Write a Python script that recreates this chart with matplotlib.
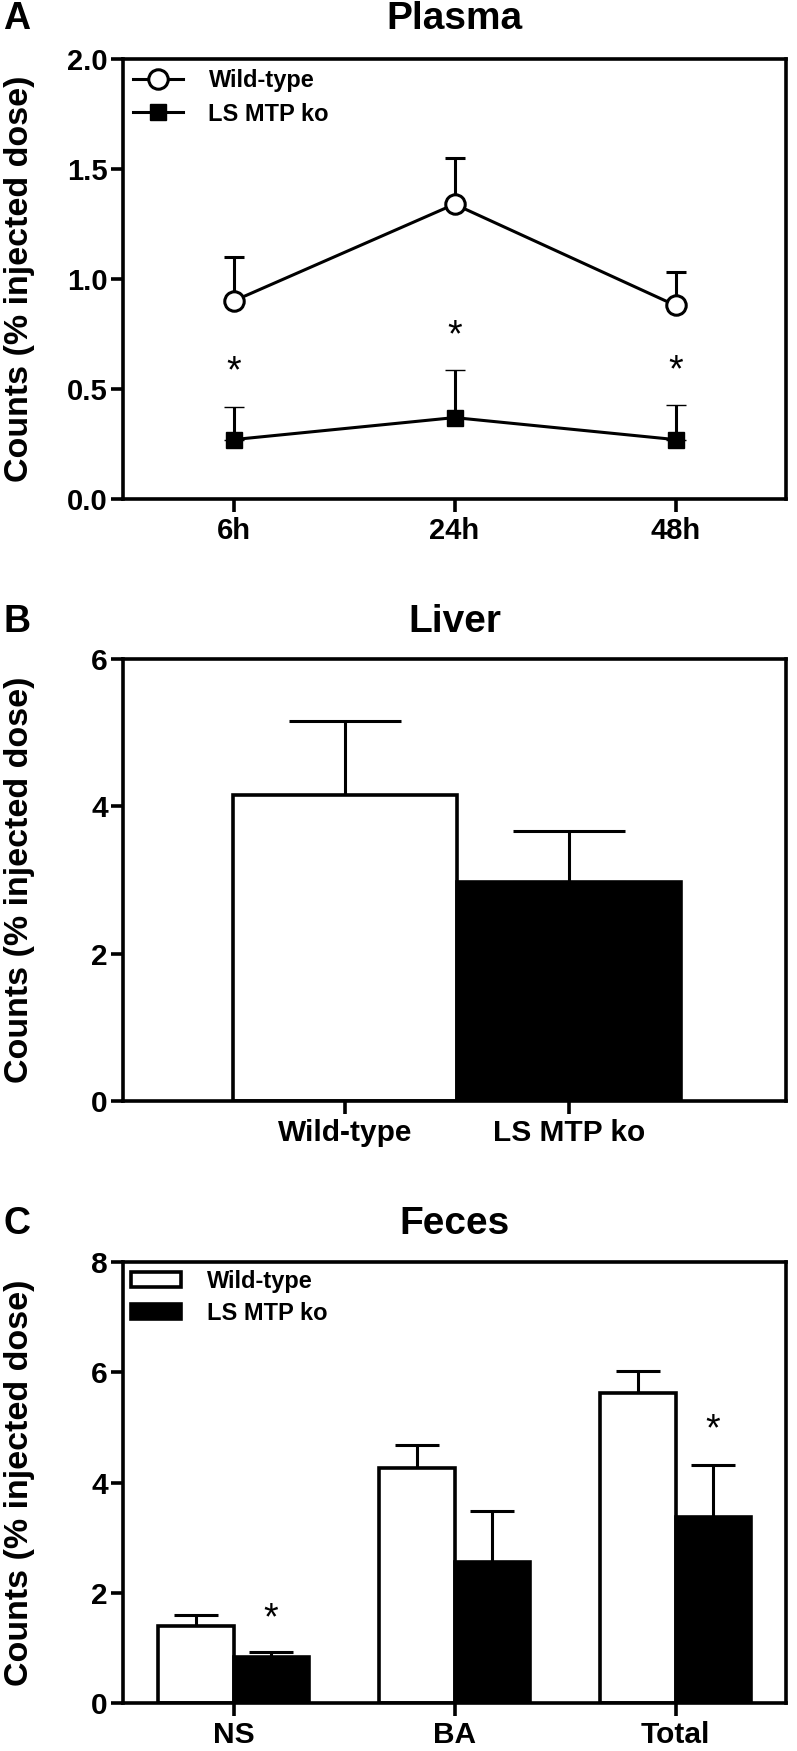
import numpy as np
import matplotlib
matplotlib.use("Agg")
import matplotlib.pyplot as plt
from matplotlib.lines import Line2D
from matplotlib.patches import Patch

# data
times = ["6h", "24h", "48h"]
plasma_wt = [0.90, 1.34, 0.88]
plasma_wt_err = [0.20, 0.21, 0.15]
plasma_ko = [0.27, 0.37, 0.27]
plasma_ko_err = [0.15, 0.215, 0.155]
plasma_stars = [0.575, 0.74, 0.58]

groups = ["Wild-type", "LS MTP ko"]
liver = [4.16, 2.97]
liver_err = [1.00, 0.69]

fractions = ["NS", "BA", "Total"]
feces_wt = [1.39, 4.27, 5.62]
feces_wt_err = [0.21, 0.41, 0.41]
feces_ko = [0.84, 2.56, 3.37]
feces_ko_err = [0.08, 0.92, 0.95]
feces_stars = {0: 1.52, 2: 4.94}

font = ["Liberation Sans", "DejaVu Sans"]
LW = 2.6
EW = 2.2

fig = plt.figure(figsize=(7.97, 17.51), dpi=100)
W, H = 797, 1751

def make_ax(top, bottom, left=123, right=786):
    return fig.add_axes([left / W, 1 - bottom / H, (right - left) / W, (bottom - top) / H])

def style(ax, size=21):
    for s in ax.spines.values():
        s.set_linewidth(LW)
    ax.tick_params(direction="out", length=9, width=LW, top=False, right=False)
    ax.tick_params(axis="x", pad=4)
    ax.tick_params(axis="y", pad=2)
    for lab in ax.get_xticklabels() + ax.get_yticklabels():
        lab.set_family(font)
        lab.set_fontweight("bold")
        lab.set_fontsize(size)

def head(letter, title, y, ax):
    p = ax.get_position()
    fig.text(17 / W, 1 - y / H, letter, family=font, weight="bold", fontsize=27, ha="center", va="center")
    fig.text(0.5 * (p.x0 + p.x1), 1 - y / H, title,
             family=font, weight="bold", fontsize=28, ha="center", va="center")
    fig.text(20 / W, 0.5 * (p.y0 + p.y1), "Counts (% injected dose)", family=font, weight="bold",
             fontsize=24.5, rotation=90, ha="center", va="center")

def leg(ax, handles, **kw):
    ax.legend(handles, groups, loc="upper left", frameon=False, borderpad=0,
              prop=dict(family=font, weight="bold", size=17), **kw)

# ---- A: plasma
axA = make_ax(59, 499)
x = np.arange(len(times))
axA.errorbar(x, plasma_wt, yerr=[np.zeros(3), plasma_wt_err], color="black", lw=EW, capsize=7,
             capthick=EW, marker="o", ms=14, mfc="white", mec="black", mew=2.2, zorder=3)
axA.errorbar(x, plasma_ko, yerr=[np.zeros(3), plasma_ko_err], color="black", lw=EW, capsize=7,
             capthick=EW, marker="s", ms=11.5, mfc="black", mec="black", mew=1, zorder=3)
for xi, ys in zip(x, plasma_stars):
    axA.text(xi, ys, "*", ha="center", va="center", fontsize=27, family=font)
axA.set_xlim(-0.5, 2.5)
axA.set_ylim(0, 2.0)
axA.set_xticks(x)
axA.set_xticklabels(times)
axA.set_yticks([0, 0.5, 1.0, 1.5, 2.0])
axA.set_yticklabels(["0.0", "0.5", "1.0", "1.5", "2.0"])
style(axA)
hA = [Line2D([], [], color="black", lw=EW, marker="o", ms=14, mfc="white", mew=2.2),
      Line2D([], [], color="black", lw=EW, marker="s", ms=11.5, mfc="black", mew=1)]
leg(axA, hA, handlelength=2.1, handletextpad=1.1, borderaxespad=0.42, labelspacing=0.45)
head("A", "Plasma", 19, axA)

# ---- B: liver
axB = make_ax(659, 1101)
xb = np.arange(len(groups))
axB.bar(xb, liver, width=1.0, color=["white", "black"], edgecolor="black", linewidth=LW, zorder=2)
axB.errorbar(xb, liver, yerr=[np.zeros(2), liver_err], fmt="none", ecolor="black", elinewidth=EW,
             capsize=40, capthick=EW, zorder=1)
axB.set_xlim(-0.99, 1.97)
axB.set_ylim(0, 6)
axB.set_xticks(xb)
axB.set_xticklabels(groups)
axB.set_yticks([0, 2, 4, 6])
style(axB, size=21.5)
head("B", "Liver", 622, axB)

# ---- C: feces
axC = make_ax(1262, 1703)
xc = np.arange(len(fractions))
w = 0.34
axC.bar(xc - w / 2, feces_wt, width=w, color="white", edgecolor="black", linewidth=LW, zorder=2)
axC.bar(xc + w / 2, feces_ko, width=w, color="black", edgecolor="black", linewidth=LW, zorder=2)
axC.errorbar(xc - w / 2, feces_wt, yerr=[np.zeros(3), feces_wt_err], fmt="none", ecolor="black",
             elinewidth=EW, capsize=16, capthick=EW, zorder=1)
axC.errorbar(xc + w / 2, feces_ko, yerr=[np.zeros(3), feces_ko_err], fmt="none", ecolor="black",
             elinewidth=EW, capsize=16, capthick=EW, zorder=1)
for i, ys in feces_stars.items():
    axC.text(xc[i] + w / 2, ys, "*", ha="center", va="center", fontsize=27, family=font)
axC.set_xlim(-0.5, 2.5)
axC.set_ylim(0, 8)
axC.set_xticks(xc)
axC.set_xticklabels(fractions)
axC.set_yticks([0, 2, 4, 6, 8])
style(axC, size=21.5)
hC = [Patch(facecolor="white", edgecolor="black", lw=LW), Patch(facecolor="black", edgecolor="black", lw=LW)]
leg(axC, hC, handlelength=2.1, handleheight=0.6, handletextpad=1.1, borderaxespad=0.35,
    labelspacing=0.35)
head("C", "Feces", 1224, axC)

fig.savefig("out.png", dpi=100)
